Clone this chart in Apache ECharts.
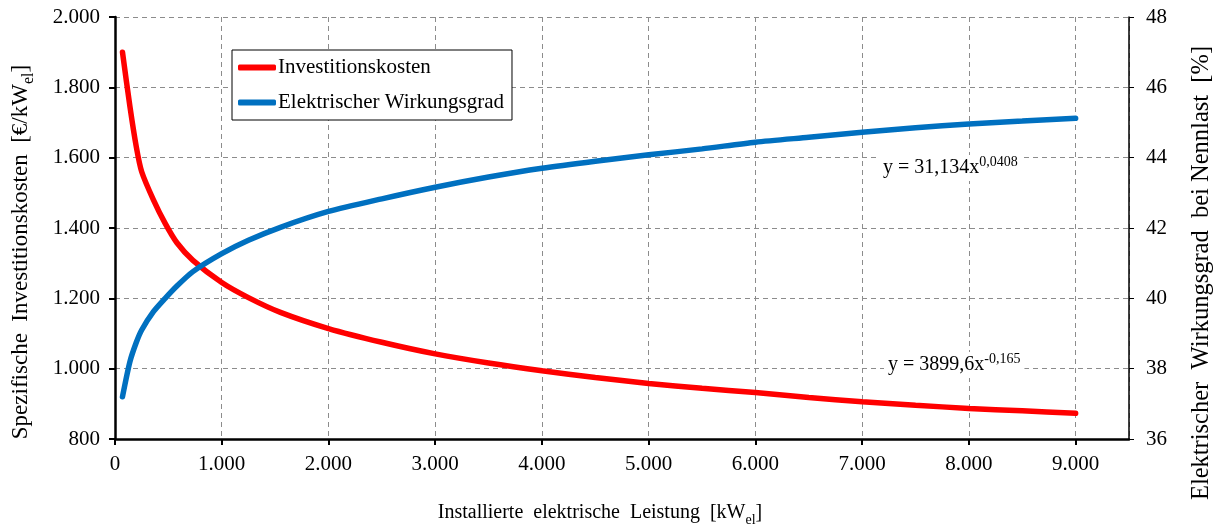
<!DOCTYPE html>
<html>
<head>
<meta charset="utf-8">
<script src="https://cdn.jsdelivr.net/npm/echarts@6/dist/echarts.min.js"></script>
<style>
  html, body { margin: 0; padding: 0; background: #fff; }
  #chart { width: 1214px; height: 524px; }
</style>
</head>
<body>
<div id="chart"></div>
<script>
// Installed electrical power [kW_el]
const leistung = [70, 140, 200, 250, 360, 470, 580, 730, 1000, 1250, 1550, 2000, 2500, 3000, 3500, 4000, 4500, 5000, 5500, 6000, 6500, 7000, 7500, 8000, 8500, 9000];
// Specific investment cost [€/kW_el]
const investitionskosten = [1900, 1745, 1630, 1560, 1480, 1413, 1358, 1308, 1245, 1202, 1160, 1114, 1075, 1042, 1016, 994, 975, 958, 944, 932, 918, 906, 896, 887, 880, 873];
// Electrical efficiency at rated load [%]
const wirkungsgrad = [37.2, 38.2, 38.75, 39.1, 39.62, 40.0, 40.35, 40.76, 41.27, 41.65, 42.02, 42.47, 42.83, 43.16, 43.45, 43.7, 43.9, 44.08, 44.25, 44.44, 44.58, 44.72, 44.85, 44.96, 45.04, 45.12];

const xTickLabels = ['0', '1.000', '2.000', '3.000', '4.000', '5.000', '6.000', '7.000', '8.000', '9.000'];
const yLeftTickLabels = ['800', '1.000', '1.200', '1.400', '1.600', '1.800', '2.000'];
const yRightTickLabels = ['36', '38', '40', '42', '44', '46', '48'];

const FONT = "'Liberation Serif', 'Times New Roman', serif";
const GRID_LINE = { show: true, lineStyle: { color: '#8c8c8c', type: [5, 4], width: 1 } };

const pairs = (ys) => leistung.map((x, i) => [x, ys[i]]);

function titleRich(size) {
  return {
    m: { fontFamily: FONT, fontSize: size, color: '#000', lineHeight: size + 8, verticalAlign: 'middle' },
    s: { fontFamily: FONT, fontSize: Math.round(size * 0.68), color: '#000', lineHeight: Math.round(size * 0.68), verticalAlign: 'bottom' }
  };
}
const eqRich = {
  m: { fontFamily: FONT, fontSize: 20, color: '#000', lineHeight: 26, verticalAlign: 'middle' },
  p: { fontFamily: FONT, fontSize: 14, color: '#000', lineHeight: 16, verticalAlign: 'top' }
};

const chart = echarts.init(document.getElementById('chart'), null, { renderer: 'canvas' });

chart.setOption({
  backgroundColor: '#fff',
  animation: false,
  grid: { left: 115, right: 85, top: 17, bottom: 85, containLabel: false },
  legend: {
    orient: 'vertical',
    left: 232,
    top: 50,
    padding: [7, 8, 7, 6],
    itemGap: 14,
    itemWidth: 38,
    itemHeight: 6,
    backgroundColor: '#fff',
    borderColor: '#000',
    borderWidth: 1,
    borderRadius: 0,
    textStyle: { fontFamily: FONT, fontSize: 21, color: '#000', padding: [0, 0, 0, -3] },
    data: [
      { name: 'Investitionskosten', icon: 'roundRect', itemStyle: { color: '#ff0000' } },
      { name: 'Elektrischer Wirkungsgrad', icon: 'roundRect', itemStyle: { color: '#0070c0' } }
    ]
  },
  xAxis: {
    type: 'value',
    min: 0,
    max: 9500,
    interval: 1000,
    axisLine: { show: true, onZero: false, lineStyle: { color: '#000', width: 2.5 } },
    axisTick: { show: true, inside: false, length: 6, lineStyle: { color: '#000', width: 2 } },
    axisLabel: {
      margin: 15,
      fontFamily: FONT, fontSize: 21, color: '#000',
      showMaxLabel: false,
      formatter: (v) => (v % 1000 === 0 ? (xTickLabels[v / 1000] || '') : '')
    },
    splitLine: GRID_LINE
  },
  yAxis: [
    {
      type: 'value',
      position: 'left',
      min: 800,
      max: 2000,
      interval: 200,
      axisLine: { show: true, lineStyle: { color: '#000', width: 2.5 } },
      axisTick: { show: true, length: 6, lineStyle: { color: '#000', width: 2 } },
      axisLabel: {
        margin: 15,
        fontFamily: FONT, fontSize: 21, color: '#000',
        formatter: (v) => yLeftTickLabels[Math.round((v - 800) / 200)]
      },
      splitLine: GRID_LINE
    },
    {
      type: 'value',
      position: 'right',
      min: 36,
      max: 48,
      interval: 2,
      axisLine: { show: true, lineStyle: { color: '#000', width: 1.5 } },
      axisTick: { show: true, length: 5, lineStyle: { color: '#000', width: 1 } },
      axisLabel: {
        margin: 17,
        fontFamily: FONT, fontSize: 21, color: '#000',
        formatter: (v) => yRightTickLabels[Math.round((v - 36) / 2)]
      },
      splitLine: { show: false }
    }
  ],
  series: [
    {
      name: 'Investitionskosten',
      type: 'line',
      yAxisIndex: 0,
      data: pairs(investitionskosten),
      showSymbol: false,
      smooth: 0.25,
      lineStyle: { color: '#ff0000', width: 5.5, cap: 'round' },
      itemStyle: { color: '#ff0000' },
      z: 3
    },
    {
      name: 'Elektrischer Wirkungsgrad',
      type: 'line',
      yAxisIndex: 1,
      data: pairs(wirkungsgrad),
      showSymbol: false,
      smooth: 0.25,
      lineStyle: { color: '#0070c0', width: 5.5, cap: 'round' },
      itemStyle: { color: '#0070c0' },
      z: 3
    }
  ],
  graphic: [
    {
      type: 'text', x: 600, y: 513, z: 10,
      style: {
        text: '{m|Installierte  elektrische  Leistung  [kW}{s|el}{m|]}',
        rich: titleRich(20), align: 'center', verticalAlign: 'middle'
      }
    },
    {
      type: 'text', x: 21, y: 252, rotation: Math.PI / 2, z: 10,
      style: {
        text: '{m|Spezifische  Investitionskosten  [€/kW}{s|el}{m|]}',
        rich: titleRich(23), align: 'center', verticalAlign: 'middle'
      }
    },
    {
      type: 'text', x: 1202, y: 273, rotation: Math.PI / 2, z: 10,
      style: {
        text: '{m|Elektrischer  Wirkungsgrad  bei Nennlast  [%]}',
        rich: titleRich(24.5), align: 'center', verticalAlign: 'middle'
      }
    },
    {
      type: 'text', x: 879, y: 168, z: 10,
      style: {
        text: '{m|y = 31,134x}{p|0,0408}',
        rich: eqRich, align: 'left', verticalAlign: 'middle',
        backgroundColor: '#fff', padding: [0, 4, 0, 4]
      }
    },
    {
      type: 'text', x: 884, y: 365, z: 10,
      style: {
        text: '{m|y = 3899,6x}{p|-0,165}',
        rich: eqRich, align: 'left', verticalAlign: 'middle',
        backgroundColor: '#fff', padding: [0, 4, 0, 4]
      }
    }
  ]
});
</script>
</body>
</html>
